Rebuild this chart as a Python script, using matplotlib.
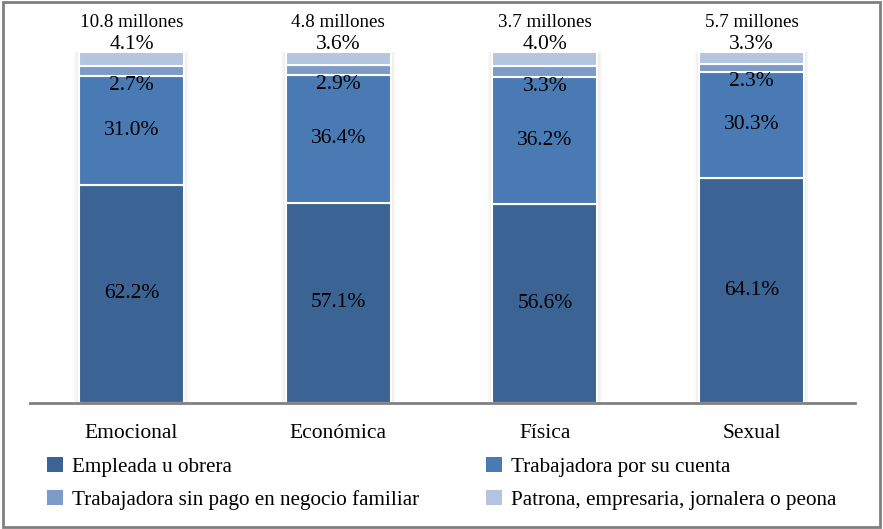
import numpy as np
import matplotlib.pyplot as plt
from matplotlib.patches import Rectangle

categorias = ['Emocional', 'Económica', 'Física', 'Sexual']
totales = ['10.8 millones', '4.8 millones', '3.7 millones', '5.7 millones']
empleada = [62.2, 57.1, 56.6, 64.1]
cuenta = [31.0, 36.4, 36.2, 30.3]
sin_pago = [2.7, 2.9, 3.3, 2.3]
patrona = [4.1, 3.6, 4.0, 3.3]

series = [empleada, cuenta, sin_pago, patrona]
nombres = ['Empleada u obrera', 'Trabajadora por su cuenta',
           'Trabajadora sin pago en negocio familiar',
           'Patrona, empresaria, jornalera o peona']
colores = ['#3b6393', '#4a7ab3', '#7d9bc7', '#b5c5e0']

plt.rcParams['font.family'] = ['Liberation Serif', 'DejaVu Serif']

fig = plt.figure(figsize=(8.83, 5.29), dpi=100)
W, H = 883, 529
ax = fig.add_axes([30 / W, 1 - 403 / H, 825 / W, 393 / H])

x = np.arange(len(categorias))
ancho = 0.508

# sombra suave detras de cada barra
for k in range(1, 8):
    ax.bar(x, 100, width=ancho + k * 0.007, color='#808080', alpha=0.025,
           linewidth=0, zorder=1)

barras = []
base = np.zeros(len(categorias))
for vals, col in zip(series, colores):
    b = ax.bar(x, vals, width=ancho, bottom=base, color=col,
               edgecolor='white', linewidth=1.5, zorder=2)
    barras.append(b)
    base = base + np.array(vals)

fs = 15.5
for i in range(len(categorias)):
    e, c, s, p = empleada[i], cuenta[i], sin_pago[i], patrona[i]
    ax.text(x[i], e / 2, f'{e:.1f}%', ha='center', va='center', fontsize=fs, zorder=3)
    ax.text(x[i], e + c / 2, f'{c:.1f}%', ha='center', va='center', fontsize=fs, zorder=3)
    ax.text(x[i], e + c - 2.7, f'{s:.1f}%', ha='center', va='center', fontsize=fs, zorder=3)
    ax.text(x[i], 102.2, f'{p:.1f}%', ha='center', va='center', fontsize=fs, zorder=3)
    ax.text(x[i], 108.3, totales[i], ha='center', va='center', fontsize=13.7, zorder=3)

ax.set_xlim(-0.491, 3.50)
ax.set_ylim(0, 112)
ax.set_xticks(x)
ax.set_xticklabels(categorias, fontsize=fs)
ax.tick_params(axis='x', length=0, pad=15)
ax.set_yticks([])
for lado in ['top', 'right', 'left']:
    ax.spines[lado].set_visible(False)
ax.spines['bottom'].set_color('#808080')
ax.spines['bottom'].set_linewidth(2)

# leyenda en dos columnas
orden = [[0, 2], [1, 3]]
posx = [28 / W, 467 / W]
for col, idx in enumerate(orden):
    ley = fig.legend([barras[j][0] for j in idx], [nombres[j] for j in idx],
                     loc='upper left', bbox_to_anchor=(posx[col], 1 - 438 / H),
                     frameon=False, fontsize=15.2, handlelength=0.75,
                     handleheight=0.75, handletextpad=0.45, labelspacing=0.6)
    for h in ley.legend_handles:
        h.set_edgecolor('none')

# marco exterior
fig.patches.append(Rectangle((0.003, 0.004), 0.994, 0.992, transform=fig.transFigure,
                             fill=False, edgecolor='#808080', linewidth=2))

fig.savefig('out.png', dpi=100)
